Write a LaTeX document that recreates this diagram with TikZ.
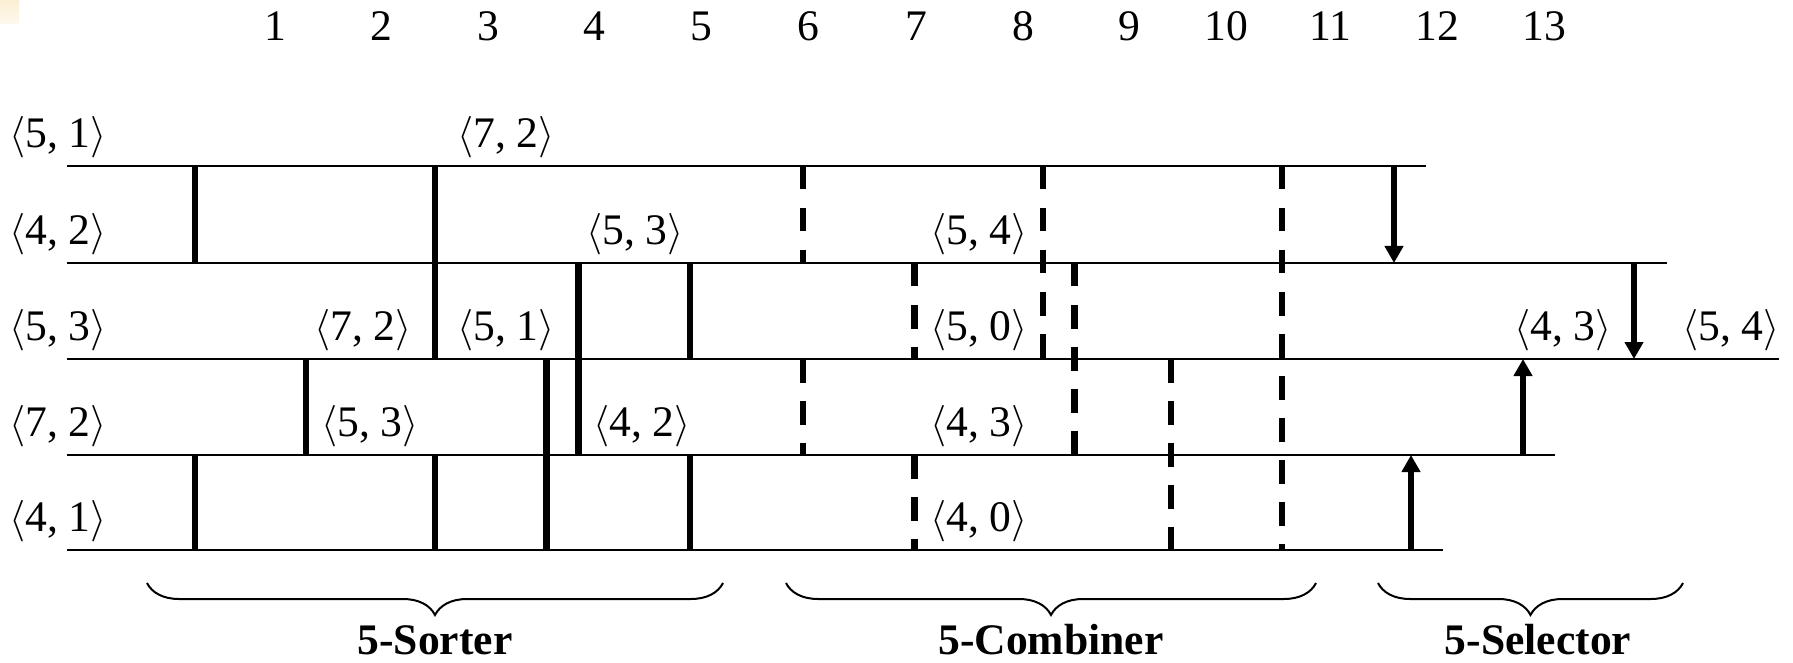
\documentclass[tikz,border=0pt]{standalone}
\usepackage{fontspec}
\setmainfont{Liberation Serif}
\usetikzlibrary{arrows.meta,decorations.pathreplacing}
\definecolor{cornerA}{HTML}{FBEFD3}
\definecolor{cornerB}{HTML}{FEF9EE}
\newcommand\tpair[2]{$\langle$#1, #2$\rangle$}
\def\wA{166}\def\wB{263}\def\wC{359}\def\wD{455}\def\wE{550}
\begin{document}
\begin{tikzpicture}[x=0.5pt,y=-0.5pt,
  wire/.style={line width=1.15pt},
  cmp/.style={line width=3.3pt},
  dcmp/.style={line width=3.3pt, dash pattern=on 11.75pt off 9.25pt},
  sel/.style={line width=3.3pt,-{Triangle[width=9pt,length=8.5pt]}},
  lbl/.style={inner sep=0pt, font=\fontsize{21.8}{26}\selectfont},
  grp/.style={inner sep=0pt, anchor=base, font=\fontsize{21.8}{26}\selectfont\bfseries},
  brc/.style={line width=1pt, decorate, decoration={brace, mirror, amplitude=16pt}}
]
\useasboundingbox (0,0) rectangle (1793,663);
\shade[top color=cornerA, bottom color=cornerB] (0,0) rectangle (19,24);

% step numbers
\foreach \n/\x in {1/275,2/381,3/488,4/594,5/701,6/808,7/916,8/1023,9/1129,10/1226,11/1330,12/1437,13/1544}
  \node[lbl] (n\n) at (\x,26) {\n};

% wires
\coordinate (w1s) at (67,\wA); \coordinate (w1e) at (1426,\wA);
\coordinate (w2s) at (67,\wB); \coordinate (w2e) at (1667,\wB);
\coordinate (w3s) at (67,\wC); \coordinate (w3e) at (1779,\wC);
\coordinate (w4s) at (67,\wD); \coordinate (w4e) at (1555,\wD);
\coordinate (w5s) at (67,\wE); \coordinate (w5e) at (1443,\wE);
\foreach \i in {1,...,5} \draw[wire] (w\i s) -- (w\i e);

% 5-Sorter comparators
\draw[cmp] (195,\wA) -- (195,\wB);
\draw[cmp] (195,\wD) -- (195,\wE);
\draw[cmp] (306,\wC) -- (306,\wD);
\draw[cmp] (435,\wA) -- (435,\wC);
\draw[cmp] (435,\wD) -- (435,\wE);
\draw[cmp] (546.5,\wC) -- (546.5,\wE);
\draw[cmp] (578.5,\wB) -- (578.5,\wD);
\draw[cmp] (690,\wB) -- (690,\wC);
\draw[cmp] (690,\wD) -- (690,\wE);

% 5-Combiner comparators
\draw[dcmp] (803,\wA) -- (803,\wB);
\draw[dcmp] (803,\wC) -- (803,\wD);
\draw[dcmp] (914.5,\wB) -- (914.5,\wC);
\draw[dcmp] (914.5,\wD) -- (914.5,\wE);
\draw[dcmp] (1043,\wA) -- (1043,\wC);
\draw[dcmp] (1074.5,\wB) -- (1074.5,\wD);
\draw[dcmp] (1171,\wC) -- (1171,\wE);
\draw[dcmp] (1282,\wA) -- (1282,\wE);

% 5-Selector
\draw[sel] (1394,\wA) -- (1394,\wB);
\draw[sel] (1634,\wB) -- (1634,\wC);
\draw[sel] (1523,\wD) -- (1523,\wC);
\draw[sel] (1411,\wE) -- (1411,\wD);

% input labels
\node[lbl] (i1) at (58,137) {\tpair{5}{1}};
\node[lbl] (i2) at (58,234) {\tpair{4}{2}};
\node[lbl] (i3) at (58,330) {\tpair{5}{3}};
\node[lbl] (i4) at (58,426) {\tpair{7}{2}};
\node[lbl] (i5) at (58,521) {\tpair{4}{1}};

% intermediate labels
\node[lbl] (a1) at (506,137) {\tpair{7}{2}};
\node[lbl] (a2) at (635,234) {\tpair{5}{3}};
\node[lbl] (a3) at (979,234) {\tpair{5}{4}};
\node[lbl] (a4) at (363,330) {\tpair{7}{2}};
\node[lbl] (a5) at (506,330) {\tpair{5}{1}};
\node[lbl] (a6) at (979,330) {\tpair{5}{0}};
\node[lbl] (a7) at (1563,330) {\tpair{4}{3}};
\node[lbl] (a8) at (1731,330) {\tpair{5}{4}};
\node[lbl] (a9) at (370,426) {\tpair{5}{3}};
\node[lbl] (a10) at (642,426) {\tpair{4}{2}};
\node[lbl] (a11) at (979,426) {\tpair{4}{3}};
\node[lbl] (a12) at (979,521) {\tpair{4}{0}};

% braces
\coordinate (bs1) at (147,583); \coordinate (be1) at (723,583);
\coordinate (bs2) at (786,583); \coordinate (be2) at (1316,583);
\coordinate (bs3) at (1378,583); \coordinate (be3) at (1683,583);
\draw[brc] (bs1) -- (be1);
\draw[brc] (bs2) -- (be2);
\draw[brc] (bs3) -- (be3);
\node[grp] (g1) at (435,654) {5-Sorter};
\node[grp] (g2) at (1051,654) {5-Combiner};
\node[grp] (g3) at (1538,654) {5-Selector};
\end{tikzpicture}
\end{document}
